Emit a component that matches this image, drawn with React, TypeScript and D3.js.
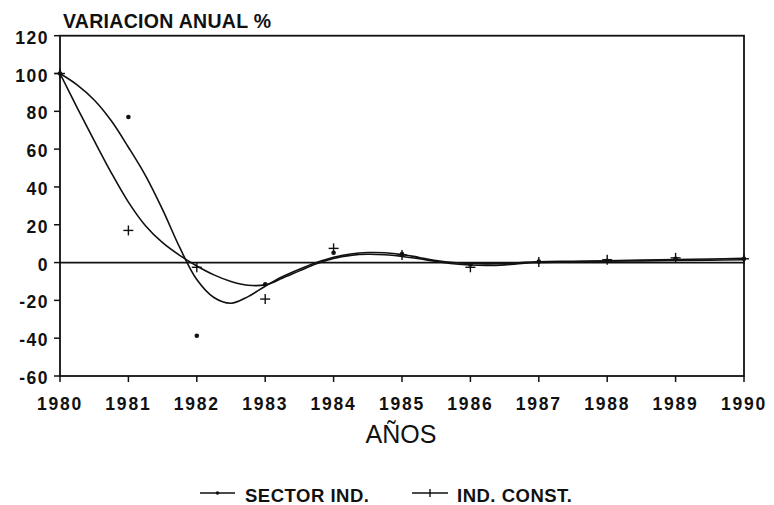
import React from 'react';
import * as d3 from 'd3';

// marker values per year
const years = [1980, 1981, 1982, 1983, 1984, 1985, 1986, 1987, 1988, 1989, 1990];
const sectorInd = [100, 77, -38.7, -11.5, 5.2, 4.5, -1, 0.5, 1, 2, 2];
const indConst = [100, 17, -2.5, -19.3, 7.5, 4, -2.5, 0.3, 1.5, 2.5, 2];

// smoothed trend lines (quarter years, then half years)
const fitYears = [1980, 1980.25, 1980.5, 1980.75, 1981, 1981.25, 1981.5, 1981.75, 1982, 1982.25, 1982.5, 1982.75, 1983, 1983.25, 1983.5, 1983.75, 1984, 1984.25, 1984.5, 1984.75, 1985, 1985.25, 1985.5, 1985.75, 1986, 1986.25, 1986.5, 1986.75, 1987, 1987.5, 1988, 1988.5, 1989, 1989.5, 1990];
const sectorFit = [100, 94, 86, 75, 61, 46, 28, 8, -9, -18.5, -21.5, -18, -12.5, -7.5, -3.5, 0, 2.8, 4.5, 5.3, 5.2, 4.3, 2.7, 1.1, 0, -0.5, -0.7, -0.5, 0, 0.4, 0.7, 1, 1.3, 1.6, 1.9, 2.2];
const constFit = [100, 82, 64.5, 47.5, 32, 19.5, 10.5, 3.8, -1.8, -6.5, -10, -12, -11.8, -8.3, -4.4, -0.6, 2.2, 3.8, 4.4, 4.1, 3.2, 2, 0.6, -0.6, -1.3, -1.5, -1.2, -0.5, 0, 0.4, 0.7, 0.9, 1.1, 1.3, 1.5];

const yTicks = [120, 100, 80, 60, 40, 20, 0, -20, -40, -60];

const W = 774;
const H = 505;
const font = '"Liberation Sans", Arial, Helvetica, sans-serif';

export default function App() {
  const x = d3.scaleLinear().domain([1980, 1990]).range([60, 744]);
  const y = d3.scaleLinear().domain([-60, 120]).range([376, 35.7]);

  const line = d3.line<[number, number]>()
    .x(d => x(d[0]))
    .y(d => y(d[1]))
    .curve(d3.curveCatmullRom.alpha(0.5));

  const sectorPath = line(fitYears.map((yr, i) => [yr, sectorFit[i]]));
  const constPath = line(fitYears.map((yr, i) => [yr, constFit[i]]));

  const stroke = '#111';

  return (
    <svg width={W} height={H} style={{ position: 'absolute', left: 0, top: 0, background: '#fff' }}>
      <rect x={0} y={0} width={W} height={H} fill="#fff" />

      <text x={63} y={28} fontFamily={font} fontWeight="bold" fontSize={19.5} letterSpacing={0.3} fill={stroke}>
        VARIACION ANUAL %
      </text>

      {/* frame */}
      <rect x={x(1980)} y={y(120)} width={x(1990) - x(1980)} height={y(-60) - y(120)}
        fill="none" stroke={stroke} strokeWidth={1.8} />
      <line x1={x(1980)} x2={x(1990)} y1={y(0)} y2={y(0)} stroke={stroke} strokeWidth={1.8} />

      {/* y axis */}
      {yTicks.map(t => (
        <g key={t}>
          <line x1={x(1980) - 6} x2={x(1980)} y1={y(t)} y2={y(t)} stroke={stroke} strokeWidth={1.5} />
          <text x={49} y={y(t) + 8} textAnchor="end" fontFamily={font} fontWeight="bold"
            fontSize={17.5} letterSpacing={1.5} fill={stroke}>{t}</text>
        </g>
      ))}

      {/* x axis */}
      {years.map(yr => (
        <g key={yr}>
          <line x1={x(yr)} x2={x(yr)} y1={y(-60)} y2={y(-60) + 6} stroke={stroke} strokeWidth={1.5} />
          <text x={x(yr)} y={410} textAnchor="middle" fontFamily={font} fontWeight="bold"
            fontSize={17.5} letterSpacing={1.8} fill={stroke}>{yr}</text>
        </g>
      ))}
      <text x={401} y={443} textAnchor="middle" fontFamily={font} fontSize={25} fill={stroke}>AÑOS</text>

      {/* fitted curves */}
      <path d={sectorPath || ''} fill="none" stroke={stroke} strokeWidth={1.6} />
      <path d={constPath || ''} fill="none" stroke={stroke} strokeWidth={1.6} />

      {/* markers */}
      {years.map((yr, i) => (
        <circle key={'s' + yr} cx={x(yr)} cy={y(sectorInd[i])} r={2.3} fill={stroke} />
      ))}
      {years.map((yr, i) => (
        <g key={'c' + yr} stroke={stroke} strokeWidth={1.4}>
          <line x1={x(yr) - 5} x2={x(yr) + 5} y1={y(indConst[i])} y2={y(indConst[i])} />
          <line x1={x(yr)} x2={x(yr)} y1={y(indConst[i]) - 5} y2={y(indConst[i]) + 5} />
        </g>
      ))}

      {/* legend */}
      <g>
        <line x1={200} x2={235} y1={493} y2={493} stroke={stroke} strokeWidth={1.4} />
        <circle cx={217.5} cy={493} r={1.8} fill={stroke} />
        <text x={245} y={502} fontFamily={font} fontWeight="bold" fontSize={18.5} letterSpacing={0.5} fill={stroke}>
          SECTOR IND.
        </text>
        <line x1={412} x2={448} y1={493} y2={493} stroke={stroke} strokeWidth={1.4} />
        <line x1={430} x2={430} y1={489} y2={497} stroke={stroke} strokeWidth={1.4} />
        <text x={457} y={502} fontFamily={font} fontWeight="bold" fontSize={18.5} letterSpacing={0.5} fill={stroke}>
          IND. CONST.
        </text>
      </g>
    </svg>
  );
}
